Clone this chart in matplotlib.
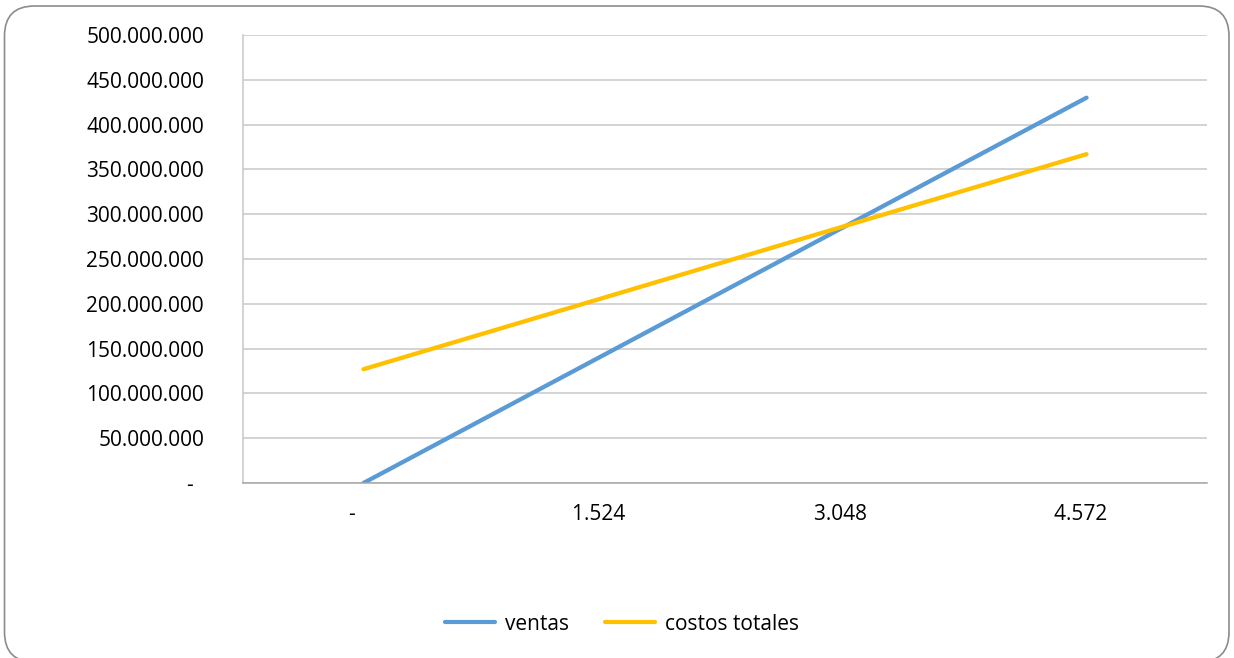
import matplotlib
matplotlib.use("Agg")
import matplotlib.pyplot as plt
from matplotlib.patches import FancyBboxPatch
from matplotlib.ticker import FuncFormatter

# Break-even data: units sold vs. sales and total costs
categorias = ["-", "1.524", "3.048", "4.572"]
ventas = [0, 143_300_000, 286_700_000, 430_000_000]
costos_totales = [127_000_000, 207_000_000, 287_000_000, 367_000_000]

plt.rcParams['font.family'] = ['Open Sans', 'DejaVu Sans']

W, H = 1234, 658
fig = plt.figure(figsize=(W / 100, H / 100), dpi=100)
fig.patch.set_facecolor("white")

# Rounded chart border (coordinates in inches; bottom runs past the canvas)
border = FancyBboxPatch((0.045, -0.04), 12.245, 6.56,
                        boxstyle="round,pad=0,rounding_size=0.3",
                        transform=fig.dpi_scale_trans, facecolor="none",
                        edgecolor="#8c8c8c", linewidth=1.2, clip_on=False)
fig.patches.append(border)

ax = fig.add_axes([243 / W, 1 - 483 / H, (1207 - 243) / W, (483 - 35) / H])
x = range(len(categorias))
ax.plot(x, ventas, color="#5B9BD5", linewidth=3.1, solid_capstyle="round", label="ventas")
ax.plot(x, costos_totales, color="#FFC000", linewidth=3.1, solid_capstyle="round",
        label="costos totales")

ax.set_xlim(-0.5, len(categorias) - 0.5)
ax.set_ylim(0, 500_000_000)
ax.set_yticks(range(0, 500_000_001, 50_000_000))


def miles(v, pos):
    if v == 0:
        return "-  "
    return f"{int(v):,}".replace(",", ".")


ax.yaxis.set_major_formatter(FuncFormatter(miles))
ax.set_xticks(list(x))
# accounting-style labels keep trailing padding
ax.set_xticklabels([c + ("    " if c == "-" else "  ") for c in categorias])
ax.tick_params(axis="both", length=0, labelsize=15, colors="#000000")
ax.tick_params(axis="y", pad=28)
ax.tick_params(axis="x", pad=15)

ax.grid(axis="y", color="#c8c8c8", linewidth=1.1)
ax.set_axisbelow(True)
for s in ["top", "right"]:
    ax.spines[s].set_visible(False)
ax.spines["left"].set_color("#c8c8c8")
ax.spines["bottom"].set_color("#a6a6a6")
ax.spines["left"].set_linewidth(1.1)
ax.spines["bottom"].set_linewidth(1.1)

leg = fig.legend(loc="center", bbox_to_anchor=(622 / W, 1 - 624 / H), ncol=2,
                 frameon=False, fontsize=15, handlelength=2.4, columnspacing=1.7,
                 handletextpad=0.5)
for ln in leg.get_lines():
    ln.set_linewidth(3)

fig.savefig("out.png", dpi=100, facecolor="white")
